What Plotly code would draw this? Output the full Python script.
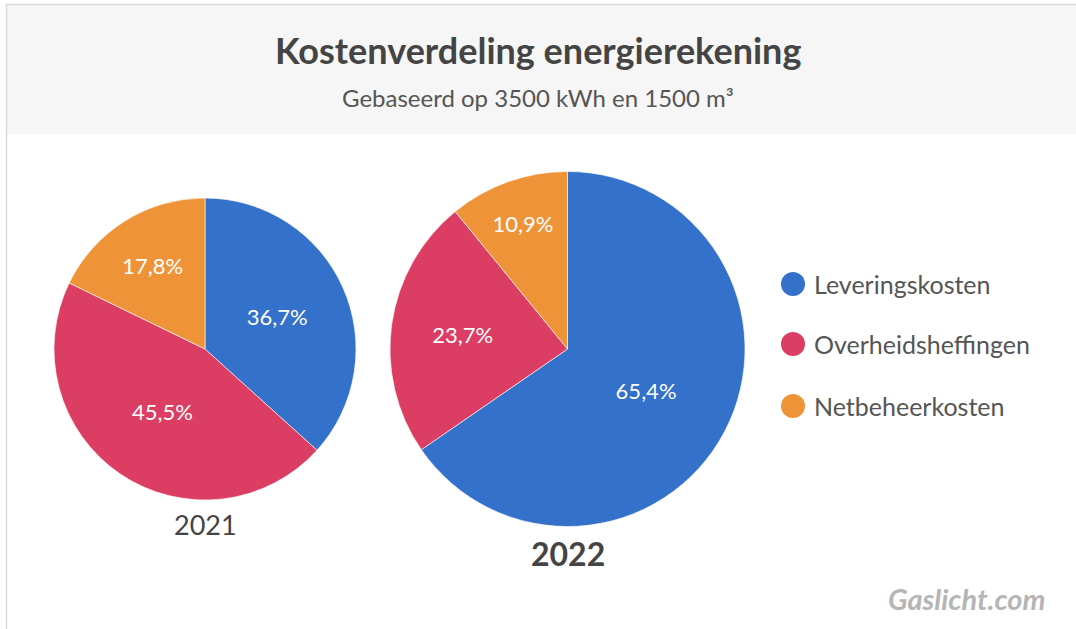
import plotly.graph_objects as go

W, H = 1076, 629

categories = ["Leveringskosten", "Overheidsheffingen", "Netbeheerkosten"]
values_2021 = [36.7, 45.5, 17.8]
values_2022 = [65.4, 23.7, 10.9]
years = ["2021", "2022"]
colors = ["#3471CA", "#DC3D62", "#EF9338"]

title = "Kostenverdeling energierekening"
subtitle = "Gebaseerd op 3500 kWh en 1500 m³"
brand = "Gaslicht.com"

FONT = "Lato"


def px_x(x):
    return x / W


def px_y(y):
    return 1 - y / H


def pie_domain(cx, cy, r):
    return dict(x=[px_x(cx - r), px_x(cx + r)], y=[px_y(cy + r), px_y(cy - r)])


fig = go.Figure()

pies = [
    (values_2021, (205, 349, 151)),
    (values_2022, (567.5, 349, 177.5)),
]
for vals, (cx, cy, r) in pies:
    fig.add_trace(go.Pie(
        labels=categories,
        values=vals,
        sort=False,
        direction="clockwise",
        rotation=0,
        marker=dict(colors=colors, line=dict(color="rgba(255,255,255,0.6)", width=1)),
        texttemplate="%{value:.1f}%",
        textposition="inside",
        insidetextorientation="horizontal",
        textfont=dict(family=FONT, size=22, color="white"),
        domain=pie_domain(cx, cy, r),
        showlegend=False,
        hoverinfo="label+percent",
    ))

shapes = [
    # header band
    dict(type="rect", xref="paper", yref="paper", x0=px_x(7), x1=1, y0=px_y(134), y1=px_y(4),
         fillcolor="#F6F6F6", line=dict(width=0), layer="below"),
    # top border
    dict(type="line", xref="paper", yref="paper", x0=px_x(6), x1=1, y0=px_y(4.5), y1=px_y(4.5),
         line=dict(color="#D9D9D9", width=1.5)),
    # left border
    dict(type="line", xref="paper", yref="paper", x0=px_x(6.5), x1=px_x(6.5), y0=0, y1=px_y(4),
         line=dict(color="#D9D9D9", width=1.5)),
]

annotations = [
    dict(text=f"<b>{title}</b>", x=0.5, y=px_y(50), xref="paper", yref="paper",
         showarrow=False, font=dict(family=FONT, size=36, color="#444444"), xanchor="center", yanchor="middle"),
    dict(text=subtitle, x=0.5, y=px_y(97), xref="paper", yref="paper",
         showarrow=False, font=dict(family=FONT, size=24, color="#555555"), xanchor="center", yanchor="middle"),
    dict(text=years[0], x=px_x(205), y=px_y(524), xref="paper", yref="paper",
         showarrow=False, font=dict(family=FONT, size=27, color="#444444"), xanchor="center", yanchor="middle"),
    dict(text=f"<b>{years[1]}</b>", x=px_x(568), y=px_y(553), xref="paper", yref="paper",
         showarrow=False, font=dict(family=FONT, size=32, color="#444444"), xanchor="center", yanchor="middle"),
    dict(text=f"<b><i>{brand}</i></b>", x=px_x(1048), y=px_y(598), xref="paper", yref="paper",
         showarrow=False, font=dict(family=FONT, size=29, color="#B5B5B5"), xanchor="right", yanchor="middle"),
]

# legend (circle markers + labels)
legend_y = [284, 344, 406]
for cat, col, ly in zip(categories, colors, legend_y):
    shapes.append(dict(type="circle", xref="paper", yref="paper",
                       x0=px_x(781), x1=px_x(805), y0=px_y(ly + 12), y1=px_y(ly - 12),
                       fillcolor=col, line=dict(width=0)))
    annotations.append(dict(text=cat, x=px_x(812), y=px_y(ly), xref="paper", yref="paper",
                            showarrow=False, font=dict(family=FONT, size=25, color="#555555"),
                            xanchor="left", yanchor="middle"))

fig.update_layout(
    width=W, height=H,
    margin=dict(l=0, r=0, t=0, b=0),
    paper_bgcolor="white",
    plot_bgcolor="white",
    separators=",.",
    shapes=shapes,
    annotations=annotations,
    font=dict(family=FONT),
)

fig.write_html("out.html", config={"displayModeBar": False},
               post_script="document.body.style.margin='0';document.body.style.overflow='hidden';")
